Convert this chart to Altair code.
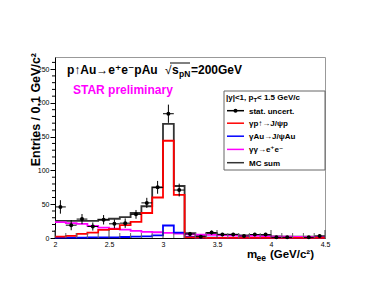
import altair as alt
import pandas as pd

# ---------------- data ----------------
bin_lo = [2.0, 2.1, 2.2, 2.3, 2.4, 2.5, 2.6, 2.7, 2.8, 2.9, 3.0, 3.1, 3.2,
          3.3, 3.4, 3.5, 3.6, 3.7, 3.8, 3.9, 4.0, 4.1, 4.2, 4.3, 4.4]
bin_width = 0.1
x_end = 4.5

data_counts = [46, 19, 28, 17, 27, 21, 22, 35, 52, 75, 184, 71, 6,
               2, 8, 5, 5, 3, 5, 5, 1, 1, 0, 1, 3]
data_errors = [10, 7.5, 7.5, 6, 7, 6.5, 7, 6.5, 7.5, 9.5, 13.5, 9.5, 3,
               2, 3, 2.5, 2.5, 2, 2.5, 2.5, 1.5, 1.5, 0, 1.5, 2]

mc_sum = [25.5, 25.5, 25.5, 25.5, 27, 28.5, 31, 37, 47, 75, 169, 77, 7,
          4, 7, 5, 5, 4, 4.5, 4, 2.5, 2, 2, 2, 2]
gp_jpsi = [2, 3, 6, 8, 12, 13, 19, 24, 37, 60, 144, 64, 1,
           0.5, 0.3, 0.3, 0.3, 0.3, 0.3, 0.3, 0.3, 0.3, 0.3, 0.3, 0.3]
gau_jpsi = [0.5, 0.5, 0.5, 1, 1, 1, 1.5, 2, 2.5, 4, 18.5, 8, 1.5,
            0.5, 0.5, 0.3, 0.3, 0.3, 0.3, 0.3, 0.3, 0.3, 0.3, 0.3, 0.3]
gg_ee = [23.5, 22, 21, 18, 15.5, 14, 12.5, 10.5, 9, 8.5, 7.5, 6.5, 5.5,
         5, 4.5, 4, 3.5, 3, 3, 2.5, 2, 2, 1.5, 1.5, 1.5]

x_major = [2, 2.5, 3, 3.5, 4, 4.5]
x_minor = [2.1, 2.2, 2.3, 2.4, 2.6, 2.7, 2.8, 2.9, 3.1, 3.2, 3.3, 3.4,
           3.6, 3.7, 3.8, 3.9, 4.1, 4.2, 4.3, 4.4]
y_major = [0, 50, 100, 150, 200, 250]
y_minor = [10, 20, 30, 40, 60, 70, 80, 90, 110, 120, 130, 140, 160, 170,
           180, 190, 210, 220, 230, 240, 260]

legend_header = ["|y|<1, p", "T", " < 1.5 GeV/c"]
legend_labels = ["stat. uncert.", "\u03b3p\u2191\u2192J/\u03c8p",
                 "\u03b3Au\u2192J/\u03c8Au", "\u03b3\u03b3\u2192e\u207ae\u207b", "MC sum"]
legend_colors = ["black", "#ff0000", "#0000ff", "#ff00ff", "#333333"]

W, H = 270, 181
FONT = "Liberation Sans, Arial, DejaVu Sans"

# ---------------- scales / axes ----------------
xs = alt.Scale(domain=[2, x_end], nice=False, zero=False)
ys = alt.Scale(domain=[0, 268], nice=False, zero=False)
xax = alt.Axis(values=x_major, format="~g", ticks=False, tickSize=0,
               labelFontSize=7, labelPadding=2, title=None, grid=False,
               labelOverlap=False, labelFlush=False, domainColor="black",
               labelFont=FONT, labelColor="black")
yax = alt.Axis(values=y_major, format="d", tickSize=5, labelFontSize=7,
               labelPadding=1, title=None, grid=False, labelOverlap=False,
               domainColor="black", tickColor="black", labelFont=FONT,
               labelColor="black")


def X(f):
    return alt.X(f, type="quantitative", scale=xs, axis=xax)


def Y(f):
    return alt.Y(f, type="quantitative", scale=ys, axis=yax)


one = pd.DataFrame({"a": [0]})


# ---------------- histograms ----------------
def step_layer(vals, color, width=1.8):
    df = pd.DataFrame({"edge": bin_lo + [x_end], "val": vals + [vals[-1]]})
    return alt.Chart(df).mark_line(
        interpolate="step-after", color=color, strokeWidth=width
    ).encode(x=X("edge"), y=Y("val"))


mc_layer = step_layer(mc_sum, "#333333")
mag_layer = step_layer(gg_ee, "#ff00ff")
blue_layer = step_layer(gau_jpsi, "#0000ff")
red_layer = step_layer(gp_jpsi, "#ff0000")

# ---------------- data points ----------------
centers = [round(v + bin_width / 2, 3) for v in bin_lo]
pts = pd.DataFrame({"c": centers, "n": data_counts, "e": data_errors})
pts = pts[pts["n"] > 0].copy()
pts["lo_e"] = pts["n"] - pts["e"]
pts["hi_e"] = pts["n"] + pts["e"]
pts["xl"] = pts["c"] - bin_width / 2
pts["xh"] = pts["c"] + bin_width / 2

err_v = alt.Chart(pts).mark_rule(color="black", strokeWidth=1).encode(
    x=X("c"), y=Y("lo_e"), y2="hi_e")
err_h = alt.Chart(pts).mark_rule(color="black", strokeWidth=1).encode(
    x=X("xl"), x2="xh", y=Y("n"))
dots = alt.Chart(pts).mark_point(filled=True, shape="circle", size=16,
                                 color="black", opacity=1).encode(
    x=X("c"), y=Y("n"))

# ---------------- ticks (x inside, y minor outside) ----------------
xmaj_df = pd.DataFrame({"v": x_major})
xmin_df = pd.DataFrame({"v": x_minor})
ymin_df = pd.DataFrame({"v": y_minor})
xmaj_ticks = alt.Chart(xmaj_df).mark_rule(color="#444444", strokeWidth=1).encode(
    x=X("v"), y=alt.value(H), y2=alt.value(H - 8))
xmin_ticks = alt.Chart(xmin_df).mark_rule(color="#666666", strokeWidth=1).encode(
    x=X("v"), y=alt.value(H), y2=alt.value(H - 5))
ymin_ticks = alt.Chart(ymin_df).mark_rule(color="black", strokeWidth=1).encode(
    y=Y("v"), x=alt.value(-3), x2=alt.value(0))


def txt(s, x, y, size, color="black", weight="bold", align="left",
        angle=0, baseline="alphabetic"):
    kw = dict(text=s, fontSize=size, font=FONT, fontWeight=weight,
              color=color, align=align, baseline=baseline)
    if angle:
        kw["angle"] = angle
    return alt.Chart(one).mark_text(**kw).encode(x=alt.value(x), y=alt.value(y))


# ---------------- titles / annotations ----------------
texts = [
    txt("p\u2191Au\u2192e\u207ae\u207bpAu", 12, 17, 12),
    txt("\u221a", 110, 17, 12, weight="normal"),
    txt("s", 117, 17, 12),
    txt("pN", 124, 20, 8.5),
    txt("=200GeV", 136, 17, 12),
    txt("STAR preliminary", 18, 37, 12, color="#ff00ff"),
    # y axis title
    txt("Entries / 0.1 GeV/c\u00b2", -15, -4, 12.5, align="right", angle=270),
    # x axis title
    txt("m", 192, 201, 11.5),
    txt("ee", 201.5, 203.7, 8.5),
    txt("(GeV/c\u00b2)", 259, 201, 11.5, align="right"),
]
overline = alt.Chart(one).mark_rule(color="black", strokeWidth=1).encode(
    x=alt.value(115), x2=alt.value(135), y=alt.value(6))

# ---------------- legend ----------------
lx0, lx1, ly0, ly1 = 169, 270, 34, 113
leg_box = alt.Chart(one).mark_rect(fill="white", stroke="#666666",
                                   strokeWidth=1).encode(
    x=alt.value(lx0), x2=alt.value(lx1), y=alt.value(ly0), y2=alt.value(ly1))
leg = [leg_box,
       txt(legend_header[0], 171, 42.5, 8),
       txt(legend_header[1], 198.4, 44.5, 6),
       txt(legend_header[2], 202, 42.5, 8)]
rows_y = [53.7, 66.2, 79.2, 92.4, 105.7]
for lab, col, ry in zip(legend_labels, legend_colors, rows_y):
    leg.append(alt.Chart(one).mark_rule(color=col, strokeWidth=1.5).encode(
        x=alt.value(172), x2=alt.value(189), y=alt.value(ry)))
    leg.append(txt(lab, 194, ry + 3, 8))
leg.append(alt.Chart(one).mark_point(filled=True, shape="circle", size=16,
                                     color="black", opacity=1).encode(
    x=alt.value(180.5), y=alt.value(rows_y[0])))

chart = alt.layer(
    mc_layer, mag_layer, blue_layer, red_layer, err_v, err_h, dots,
    xmaj_ticks, xmin_ticks, ymin_ticks, *texts, overline, *leg
).properties(
    width=W, height=H,
    autosize=alt.AutoSizeParams(type="none"),
    padding={"left": 47, "top": 49, "right": 45, "bottom": 45},
    background="white",
).configure_view(stroke="#999999", strokeWidth=1)

chart.save("out.html", embed_options={"renderer": "svg", "actions": False})
